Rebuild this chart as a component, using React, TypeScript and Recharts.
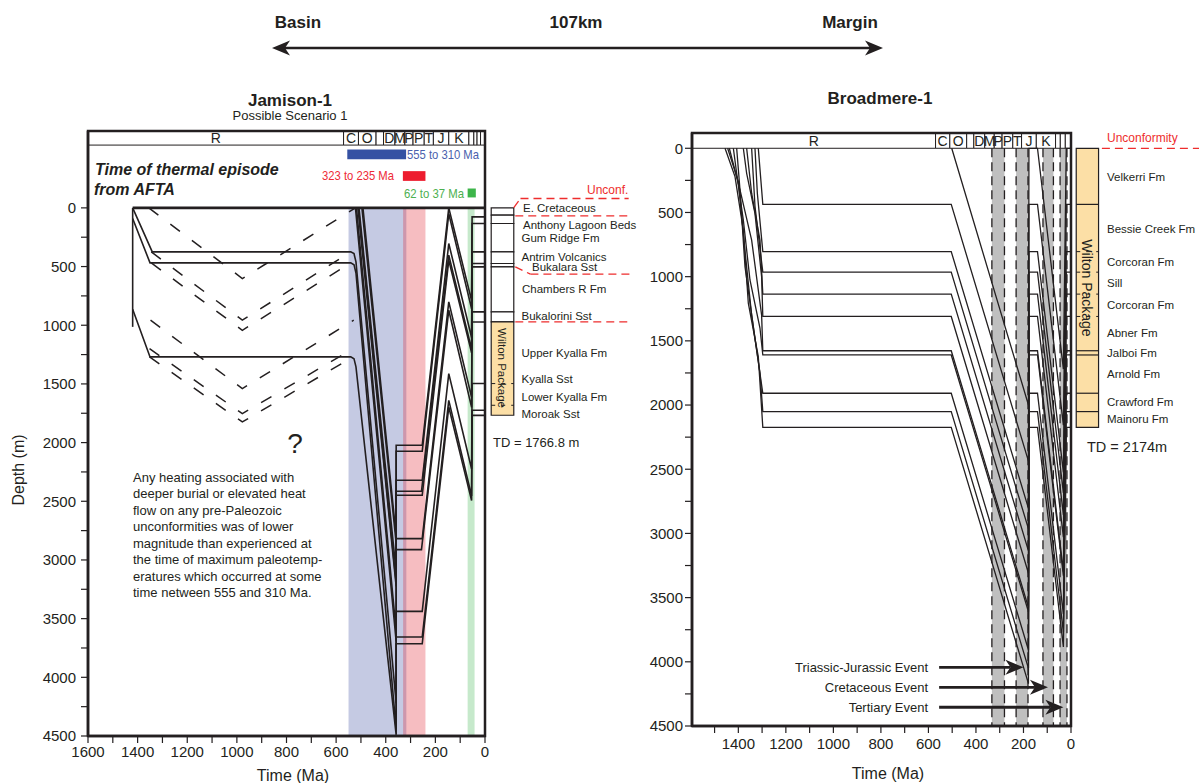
import React from 'react';
import { ComposedChart, Line, XAxis, YAxis, ReferenceArea, ReferenceLine } from 'recharts';

const FONT = '"Liberation Sans", Arial, Helvetica, sans-serif';
const INK = '#231F20';

// ---------------- shared axis ticks ----------------
const depthTicks = [0, 250, 500, 750, 1000, 1250, 1500, 1750, 2000, 2250, 2500, 2750, 3000, 3250, 3500, 3750, 4000, 4250, 4500];
const jamTimeTicks = [0, 100, 200, 300, 400, 500, 600, 700, 800, 900, 1000, 1100, 1200, 1300, 1400, 1500, 1600];
const brdTimeTicks = [0, 100, 200, 300, 400, 500, 600, 700, 800, 900, 1000, 1100, 1200, 1300, 1400, 1500];

// ---------------- Jamison-1 data ----------------
const jamPeriodBounds = [1600, 570, 510, 439, 409, 363, 323, 290, 245, 208, 146, 65, 45, 32, 18, 0];
const jamPeriodLabels = ['R', 'C', 'O', '', 'D', 'M', 'P', 'P', 'T', 'J', 'K', '', '', '', ''];

// thermal episodes from AFTA (Ma)
const jamBandRanges = [[550, 317], [330, 240], [70, 42]];
const jamBarRanges = [[555, 318], [331, 240], [70, 37]];
const jamBarLabels = ['555 to 310 Ma', '323 to 235 Ma', '62 to 37 Ma'];

// burial histories [time Ma, depth m]
const jamH77 = [[492, 0], [358, 2800], [358, 2023], [253, 2023], [146, 0], [54, 790], [52, 77], [0, 77]];
const jamH133 = [[496, 0], [358, 2855], [358, 2074], [253, 2074], [146, 50], [54, 860], [52, 133], [0, 133]];
const jamH375 = [[508, 0], [358, 3100], [358, 2321], [253, 2321], [146, 304], [54, 1105], [52, 375], [0, 375]];
const jamH474 = [[510, 0], [358, 3195], [358, 2415], [256, 2415], [146, 403], [54, 1205], [52, 474], [0, 474]];
const jamH503 = [[512, 0], [358, 3225], [358, 2449], [253, 2449], [146, 446], [54, 1235], [52, 503], [0, 503]];
const jamH886 = [[518, 0], [358, 3610], [358, 2818], [253, 2818], [146, 801], [54, 1615], [52, 886], [0, 886]];
const jamH972 = [[522, 0], [358, 3695], [358, 2912], [256, 2912], [146, 872], [54, 1700], [52, 972], [0, 972]];
const jamH1497 = [[1420, 0], [1341, 375], [541, 375], [528, 390], [520, 460], [358, 4220], [358, 3438], [253, 3438], [146, 1412], [54, 2225], [52, 1497], [0, 1497]];
const jamH1725 = [[1420, 90], [1350, 469], [541, 469], [528, 484], [520, 555], [358, 4445], [358, 3657], [253, 3657], [146, 1640], [54, 2455], [52, 1725], [0, 1725]];
const jamH1768 = [[1420, 864], [1350, 1270], [541, 1270], [528, 1285], [520, 1355], [358, 4490], [358, 3714], [253, 3714], [146, 1697], [54, 2494], [52, 1768], [0, 1768]];
const jamBasement = [[1420, 0], [1420, 1014]];
const jamHorizons = [jamH77, jamH133, jamH375, jamH474, jamH503, jamH886, jamH972, jamH1497, jamH1725, jamH1768, jamBasement];

// hypothetical (dashed) pre-Paleozoic burial scenarios
const jamAltV1 = [[1355, 0], [978, 602], [522, 0]];
const jamAltV2a = [[1345, 375], [978, 957], [541, 375]];
const jamAltV2b = [[1345, 469], [978, 1043], [541, 469]];
const jamAltV3 = [[1348, 957], [978, 1540], [529, 957]];
const jamAltV4a = [[1352, 1200], [978, 1753], [532, 1200]];
const jamAltV4b = [[1352, 1270], [978, 1824], [532, 1270]];
const jamAlternatives = [jamAltV1, jamAltV2a, jamAltV2b, jamAltV3, jamAltV4a, jamAltV4b];

// stratigraphic column (depth m)
const jamColumnRows = [[0, 62], [62, 133], [133, 375], [375, 474], [474, 503], [503, 886], [886, 972]];
const jamWilton = [972, 1767];
const jamWiltonDashes = [1497, 1682];
const jamFormationNames = ['E. Cretaceous', 'Anthony Lagoon Beds', 'Gum Ridge Fm', 'Antrim Volcanics', 'Bukalara Sst', 'Chambers R Fm', 'Bukalorini Sst', 'Upper Kyalla Fm', 'Kyalla Sst', 'Lower Kyalla Fm', 'Moroak Sst'];
// unconformity traces [t1,d1,t2,d2] (t negative = right of present)
const jamUnconf = [
  [-116, -3, -143, -80], [-143, -80, -579, -80],
  [-122, 68, -586, 68],
  [-122, 503, -183, 565], [-183, 565, -586, 565],
  [-122, 972, -586, 972],
];
const jamNoteLines = [
  'Any heating associated with',
  'deeper burial or elevated heat',
  'flow on any pre-Paleozoic',
  'unconformities was of lower',
  'magnitude than experienced at',
  'the time of maximum paleotemp-',
  'eratures which occurred at some',
  'time netween 555 and 310 Ma.',
];

// ---------------- Broadmere-1 data ----------------
const brdPeriodBounds = [1595, 570, 510, 439, 409, 363, 323, 290, 245, 208, 146, 65, 45, 24, 0];
const brdPeriodLabels = ['R', 'C', 'O', '', 'D', 'M', 'P', 'P', 'T', 'J', 'K', '', '', ''];
const brdEventBands = [[333, 280], [231, 181], [118, 74], [46, 17]];
const brdEventNames = ['Triassic-Jurassic Event', 'Cretaceous Event', 'Tertiary Event'];
const brdEventTips = [200, 97, 32];
const brdEventDepths = [4043, 4199, 4354];
const brdEventStart = 555;

const brdH0 = [[502, 0], [179, 2000], [177, 0], [141, 0], [32, 1720], [20, 0], [0, 0]];
const brdH437 = [[1316, 0], [1297, 437], [504, 437], [179, 2437], [177, 437], [141, 437], [32, 2157], [20, 437], [0, 437]];
const brdH805 = [[1330, 0], [1320, 350], [1297, 805], [504, 805], [179, 2805], [177, 805], [141, 805], [32, 2525], [20, 805], [0, 805]];
const brdH965 = [[1344, 0], [1330, 450], [1297, 965], [504, 965], [179, 2965], [177, 965], [141, 965], [32, 2685], [20, 965], [0, 965]];
const brdH1136 = [[1365, 0], [1344, 350], [1309, 715], [1297, 1136], [504, 1136], [179, 3136], [177, 1136], [141, 1136], [32, 2856], [20, 1136], [0, 1136]];
const brdH1310 = [[1379, 0], [1365, 195], [1330, 507], [1302, 1000], [1297, 1310], [504, 1310], [179, 3310], [177, 1310], [141, 1310], [32, 3030], [20, 1310], [0, 1310]];
const brdH1577 = [[1407, 0], [1393, 325], [1344, 715], [1302, 1300], [1297, 1577], [504, 1577], [179, 3577], [177, 1577], [141, 1577], [32, 3297], [20, 1577], [0, 1577]];
const brdH1610 = [[1421, 0], [1407, 195], [1379, 559], [1351, 1026], [1309, 1400], [1297, 1610], [504, 1610], [179, 3610], [177, 1610], [141, 1610], [32, 3330], [20, 1610], [0, 1610]];
const brdH1908 = [[1438, 0], [1393, 325], [1372, 922], [1337, 1389], [1297, 1908], [504, 1908], [179, 3908], [177, 1908], [141, 1908], [32, 3628], [20, 1908], [0, 1908]];
const brdH2051 = [[1445, 0], [1400, 260], [1372, 800], [1344, 1300], [1309, 1750], [1297, 2051], [504, 2051], [179, 4051], [177, 2051], [141, 2051], [32, 3771], [20, 2051], [0, 2051]];
const brdH2174 = [[1456, 0], [1414, 221], [1379, 637], [1358, 1207], [1316, 1622], [1297, 2174], [504, 2174], [179, 4170], [177, 2174], [141, 2174], [32, 3884], [20, 2174], [0, 2174]];
const brdHorizons = [brdH0, brdH437, brdH805, brdH965, brdH1136, brdH1310, brdH1577, brdH1610, brdH1908, brdH2051, brdH2174];

const brdColumnBreaks = [0, 437, 1577, 1610, 1908, 2051, 2174];
const brdColumnDashes = [805, 965, 1136, 1310];
const brdFormationNames = ['Velkerri Fm', 'Bessie Creek Fm', 'Corcoran Fm', 'Sill', 'Corcoran Fm', 'Abner Fm', 'Jalboi Fm', 'Arnold Fm', 'Crawford Fm', 'Mainoru Fm'];

// ---------------- layout (pixels / styling) ----------------
const JAM = { w: 640, h: 783, top: 131, right: 155, left: 28, yw: 60, xh: 47, yTop: -655, headBot: -535 };
const BRD = { w: 559, h: 783, left0: 640, top: 133, right: 128, yw: 52, xh: 57, yTop: -119 };
const JAM_COL = [-25, -116];
const BRD_COL = [-22, -116];
const jamFormationPos = [[523, 207.5], [523, 224.5], [521.5, 237.5], [521.5, 257], [532, 267], [522, 289], [521.5, 316], [521.5, 353], [521.5, 379], [521.5, 397], [521.5, 414]];
const brdFormationY = [177, 229, 262, 283, 305, 333, 353, 374, 402, 419];
const bandStyles = [
  { fill: '#2E3F9A', op: 0.28 },
  { fill: '#E01C29', op: 0.29 },
  { fill: '#3CB44B', op: 0.29 },
];
const barStyles = [
  { fill: '#3551A3', text: '#4A5FAD', y: [-498, -415] },
  { fill: '#ED1C2E', text: '#EE2A36', y: [-313, -230] },
  { fill: '#3DB54A', text: '#4DB050', y: [-165, -89] },
];
const RED = '#EE2D2D';
const ORANGE = '#FCDFA6';

const toPts = (arr: number[][]) => arr.map(([t, d]) => ({ t, d }));
const fmtDepth = (v: number) => (v % 500 === 0 ? String(v) : '');
const fmtTime = (v: number) => (v % 200 === 0 ? String(v) : '');

const tickStyle = { fill: INK, fontSize: 15, fontFamily: FONT };
const axisLine = { stroke: INK, strokeWidth: 2.5 };
const tickLine = { stroke: INK, strokeWidth: 1.2 };

function makeArrow(text: string) {
  return (p: any) => {
    const { x1, y1, x2, y2 } = p;
    const L = 18, W = 7.5, notch = 5;
    const dir = x2 > x1 ? 1 : -1;
    return (
      <g>
        <line x1={x1} y1={y1} x2={x2 - dir * (L - notch)} y2={y2} stroke={INK} strokeWidth={2.8} />
        <path d={`M${x2},${y2} L${x2 - dir * L},${y2 - W} L${x2 - dir * (L - notch)},${y2} L${x2 - dir * L},${y2 + W} Z`} fill={INK} />
        <text x={Math.min(x1, x2) - 11} y={y1} dominantBaseline="central" textAnchor="end" fontSize={13} fontFamily={FONT} fill={INK}>{text}</text>
      </g>
    );
  };
}

export default function App() {
  return (
    <div style={{ position: 'absolute', left: 0, top: 0, width: 1199, height: 783, background: '#fff', overflow: 'hidden' }}>
      {/* ---------------- Jamison-1 ---------------- */}
      <div style={{ position: 'absolute', left: 0, top: 0 }}>
        <ComposedChart width={JAM.w} height={JAM.h} margin={{ top: JAM.top, right: JAM.right, bottom: 0, left: JAM.left }}>
          <XAxis type="number" dataKey="t" domain={[0, 1600]} reversed allowDataOverflow ticks={jamTimeTicks} interval={0}
            tickFormatter={fmtTime} height={JAM.xh} tickSize={7} tickMargin={3} axisLine={axisLine} tickLine={tickLine} tick={tickStyle} />
          <YAxis type="number" domain={[JAM.yTop, 4500]} reversed allowDataOverflow ticks={depthTicks} interval={0}
            tickFormatter={fmtDepth} width={JAM.yw} tickSize={7} tickMargin={5} axisLine={axisLine} tickLine={tickLine} tick={tickStyle} />

          {jamBandRanges.map((r, i) => (
            <ReferenceArea key={'jb' + i} x1={r[0]} x2={r[1]} y1={0} y2={4500} fill={bandStyles[i].fill} fillOpacity={bandStyles[i].op} stroke="none" ifOverflow="visible" />
          ))}

          {jamPeriodLabels.map((lab, i) => (
            <ReferenceArea key={'jp' + i} x1={jamPeriodBounds[i]} x2={jamPeriodBounds[i + 1]} y1={JAM.yTop} y2={JAM.headBot}
              fill="#fff" fillOpacity={1} stroke={INK} strokeWidth={1} ifOverflow="visible"
              label={lab ? { value: lab, position: 'center', fill: INK, fontSize: 14, fontFamily: FONT } : undefined} />
          ))}

          {jamBarRanges.map((r, i) => (
            <ReferenceArea key={'jbar' + i} x1={r[0]} x2={r[1]} y1={barStyles[i].y[0]} y2={barStyles[i].y[1]} fill={barStyles[i].fill} fillOpacity={1} stroke="none" ifOverflow="visible" />
          ))}

          <ReferenceLine segment={[{ x: 1420, y: 0 }, { x: 0, y: 0 }]} stroke={INK} strokeWidth={2.6} ifOverflow="visible" />

          {jamAlternatives.map((h, i) => (
            <Line key={'ja' + i} data={toPts(h)} dataKey="d" type="linear" stroke={INK} strokeWidth={1.5} strokeDasharray="12 15"
              dot={false} activeDot={false} isAnimationActive={false} />
          ))}
          {jamHorizons.map((h, i) => (
            <Line key={'jh' + i} data={toPts(h)} dataKey="d" type="linear" stroke={INK} strokeWidth={1.6}
              dot={false} activeDot={false} isAnimationActive={false} />
          ))}

          {jamColumnRows.map((r, i) => (
            <ReferenceArea key={'jc' + i} x1={JAM_COL[0]} x2={JAM_COL[1]} y1={r[0]} y2={r[1]} fill="#fff" fillOpacity={1} stroke={INK} strokeWidth={1.2} ifOverflow="visible" />
          ))}
          <ReferenceArea x1={JAM_COL[0]} x2={JAM_COL[1]} y1={jamWilton[0]} y2={jamWilton[1]} fill={ORANGE} fillOpacity={1} stroke={INK} strokeWidth={1.2} ifOverflow="visible" />
          {jamWiltonDashes.map((d, i) => (
            <ReferenceLine key={'jwd' + i} segment={[{ x: JAM_COL[0], y: d }, { x: JAM_COL[1], y: d }]} stroke={INK} strokeWidth={1} strokeDasharray="4 6" ifOverflow="visible" />
          ))}
          {jamUnconf.map((s, i) => (
            <ReferenceLine key={'ju' + i} segment={[{ x: s[0], y: s[1] }, { x: s[2], y: s[3] }]} stroke={RED} strokeWidth={1.3} strokeDasharray="8 5" ifOverflow="visible" />
          ))}

          <ReferenceArea x1={1600} x2={0} y1={JAM.yTop} y2={4500} fill="none" stroke={INK} strokeWidth={2.5} ifOverflow="visible" />
        </ComposedChart>
      </div>

      {/* ---------------- Broadmere-1 ---------------- */}
      <div style={{ position: 'absolute', left: BRD.left0, top: 0 }}>
        <ComposedChart width={BRD.w} height={BRD.h} margin={{ top: BRD.top, right: BRD.right, bottom: 0, left: 0 }}>
          <XAxis type="number" dataKey="t" domain={[0, 1595]} reversed allowDataOverflow ticks={brdTimeTicks} interval={0}
            tickFormatter={fmtTime} height={BRD.xh} tickSize={7} tickMargin={5} axisLine={axisLine} tickLine={tickLine} tick={tickStyle} />
          <YAxis type="number" domain={[BRD.yTop, 4500]} reversed allowDataOverflow ticks={depthTicks} interval={0}
            tickFormatter={fmtDepth} width={BRD.yw} tickSize={7} tickMargin={2} axisLine={axisLine} tickLine={tickLine} tick={tickStyle} />

          {brdEventBands.map((r, i) => (
            <ReferenceArea key={'bb' + i} x1={r[0]} x2={r[1]} y1={0} y2={4500} fill="#000" fillOpacity={0.25} stroke="none" ifOverflow="visible" />
          ))}
          {brdEventBands.flatMap((r, i) => r.map((x, j) => (
            <ReferenceLine key={'bd' + i + '_' + j} segment={[{ x, y: 0 }, { x, y: 4500 }]} stroke={INK} strokeWidth={1.3} strokeDasharray="9 5" ifOverflow="visible" />
          )))}

          {brdPeriodLabels.map((lab, i) => (
            <ReferenceArea key={'bp' + i} x1={brdPeriodBounds[i]} x2={brdPeriodBounds[i + 1]} y1={BRD.yTop} y2={0}
              fill="#fff" fillOpacity={1} stroke={INK} strokeWidth={1} ifOverflow="visible"
              label={lab ? { value: lab, position: 'center', fill: INK, fontSize: 14, fontFamily: FONT } : undefined} />
          ))}

          {brdHorizons.map((h, i) => (
            <Line key={'bh' + i} data={toPts(h)} dataKey="d" type="linear" stroke={INK} strokeWidth={1.3}
              dot={false} activeDot={false} isAnimationActive={false} />
          ))}

          {brdEventNames.map((name, i) => (
            <ReferenceLine key={'ba' + i} segment={[{ x: brdEventStart, y: brdEventDepths[i] }, { x: brdEventTips[i], y: brdEventDepths[i] }]}
              ifOverflow="visible" shape={makeArrow(name)} />
          ))}

          <ReferenceArea x1={BRD_COL[0]} x2={BRD_COL[1]} y1={0} y2={2174} fill={ORANGE} fillOpacity={1} stroke={INK} strokeWidth={1.2} ifOverflow="visible" />
          {brdColumnBreaks.slice(1, -1).map((d, i) => (
            <ReferenceLine key={'bcl' + i} segment={[{ x: BRD_COL[0], y: d }, { x: BRD_COL[1], y: d }]} stroke={INK} strokeWidth={1.2} ifOverflow="visible" />
          ))}
          {brdColumnDashes.map((d, i) => (
            <ReferenceLine key={'bcd' + i} segment={[{ x: BRD_COL[0], y: d }, { x: BRD_COL[1], y: d }]} stroke={INK} strokeWidth={1} strokeDasharray="4 6" ifOverflow="visible" />
          ))}
          <ReferenceLine segment={[{ x: -130, y: 0 }, { x: -545, y: 0 }]} stroke={RED} strokeWidth={1.3} strokeDasharray="8 5" ifOverflow="visible" />

          <ReferenceArea x1={1595} x2={0} y1={BRD.yTop} y2={4500} fill="none" stroke={INK} strokeWidth={2.5} ifOverflow="visible" />
        </ComposedChart>
      </div>

      {/* ---------------- text annotations ---------------- */}
      <svg width={1199} height={783} style={{ position: 'absolute', left: 0, top: 0, pointerEvents: 'none' }} fontFamily={FONT}>
        {/* top distance arrow */}
        <text x={298} y={22} textAnchor="middle" dominantBaseline="central" fontSize={17} fontWeight="bold" fill={INK}>Basin</text>
        <text x={576} y={22} textAnchor="middle" dominantBaseline="central" fontSize={17} fontWeight="bold" fill={INK}>107km</text>
        <text x={850} y={22} textAnchor="middle" dominantBaseline="central" fontSize={17} fontWeight="bold" fill={INK}>Margin</text>
        <line x1={284} y1={48} x2={871} y2={48} stroke={INK} strokeWidth={2.6} />
        <path d="M272,48 L290,40.5 L285,48 L290,55.5 Z" fill={INK} />
        <path d="M883,48 L865,40.5 L870,48 L865,55.5 Z" fill={INK} />

        {/* titles */}
        <text x={290} y={100} textAnchor="middle" dominantBaseline="central" fontSize={17} fontWeight="bold" fill={INK}>Jamison-1</text>
        <text x={290} y={115} textAnchor="middle" dominantBaseline="central" fontSize={13} fill={INK}>Possible Scenario 1</text>
        <text x={880} y={98} textAnchor="middle" dominantBaseline="central" fontSize={17} fontWeight="bold" fill={INK}>Broadmere-1</text>

        {/* axis titles */}
        <text x={18} y={470} textAnchor="middle" dominantBaseline="central" fontSize={16} fill={INK} transform="rotate(-90, 18, 470)">Depth (m)</text>
        <text x={293} y={775} textAnchor="middle" dominantBaseline="central" fontSize={16} fill={INK}>Time (Ma)</text>
        <text x={888} y={773} textAnchor="middle" dominantBaseline="central" fontSize={16} fill={INK}>Time (Ma)</text>

        {/* AFTA annotations */}
        <text x={95} y={169} dominantBaseline="central" fontSize={16} fontWeight="bold" fontStyle="italic" fill={INK}>Time of thermal episode</text>
        <text x={94} y={189} dominantBaseline="central" fontSize={16} fontWeight="bold" fontStyle="italic" fill={INK}>from AFTA</text>
        <text x={407} y={154} dominantBaseline="central" fontSize={13} fill={barStyles[0].text} textLength={72} lengthAdjust="spacingAndGlyphs">{jamBarLabels[0]}</text>
        <text x={322} y={175} dominantBaseline="central" fontSize={13} fill={barStyles[1].text} textLength={72} lengthAdjust="spacingAndGlyphs">{jamBarLabels[1]}</text>
        <text x={404} y={193} dominantBaseline="central" fontSize={13} fill={barStyles[2].text} textLength={60} lengthAdjust="spacingAndGlyphs">{jamBarLabels[2]}</text>

        <text x={295} y={443} textAnchor="middle" dominantBaseline="central" fontSize={28} fill={INK}>?</text>
        {jamNoteLines.map((s, i) => (
          <text key={'n' + i} x={133} y={477 + i * 16.57} dominantBaseline="central" fontSize={13} fill={INK}>{s}</text>
        ))}

        {/* Jamison column labels */}
        {jamFormationNames.map((s, i) => (
          <text key={'jf' + i} x={jamFormationPos[i][0]} y={jamFormationPos[i][1]} dominantBaseline="central" fontSize={11.5} fill={INK}>{s}</text>
        ))}
        <text x={587} y={190} dominantBaseline="central" fontSize={12} fill={RED}>Unconf.</text>
        <text x={493} y={442} dominantBaseline="central" fontSize={13} fill={INK}>TD = 1766.8 m</text>
        <text x={502} y={368} textAnchor="middle" dominantBaseline="central" fontSize={11.5} fill={INK} transform="rotate(90, 502, 368)">Wilton Package</text>

        {/* Broadmere column labels */}
        {brdFormationNames.map((s, i) => (
          <text key={'bf' + i} x={1107} y={brdFormationY[i]} dominantBaseline="central" fontSize={11.5} fill={INK}>{s}</text>
        ))}
        <text x={1107} y={138} dominantBaseline="central" fontSize={12} fill={RED}>Unconformity</text>
        <text x={1087} y={447} dominantBaseline="central" fontSize={14.5} fill={INK}>TD = 2174m</text>
        <text x={1087} y={288} textAnchor="middle" dominantBaseline="central" fontSize={14} fill={INK} transform="rotate(90, 1087, 288)">Wilton Package</text>
      </svg>
    </div>
  );
}
